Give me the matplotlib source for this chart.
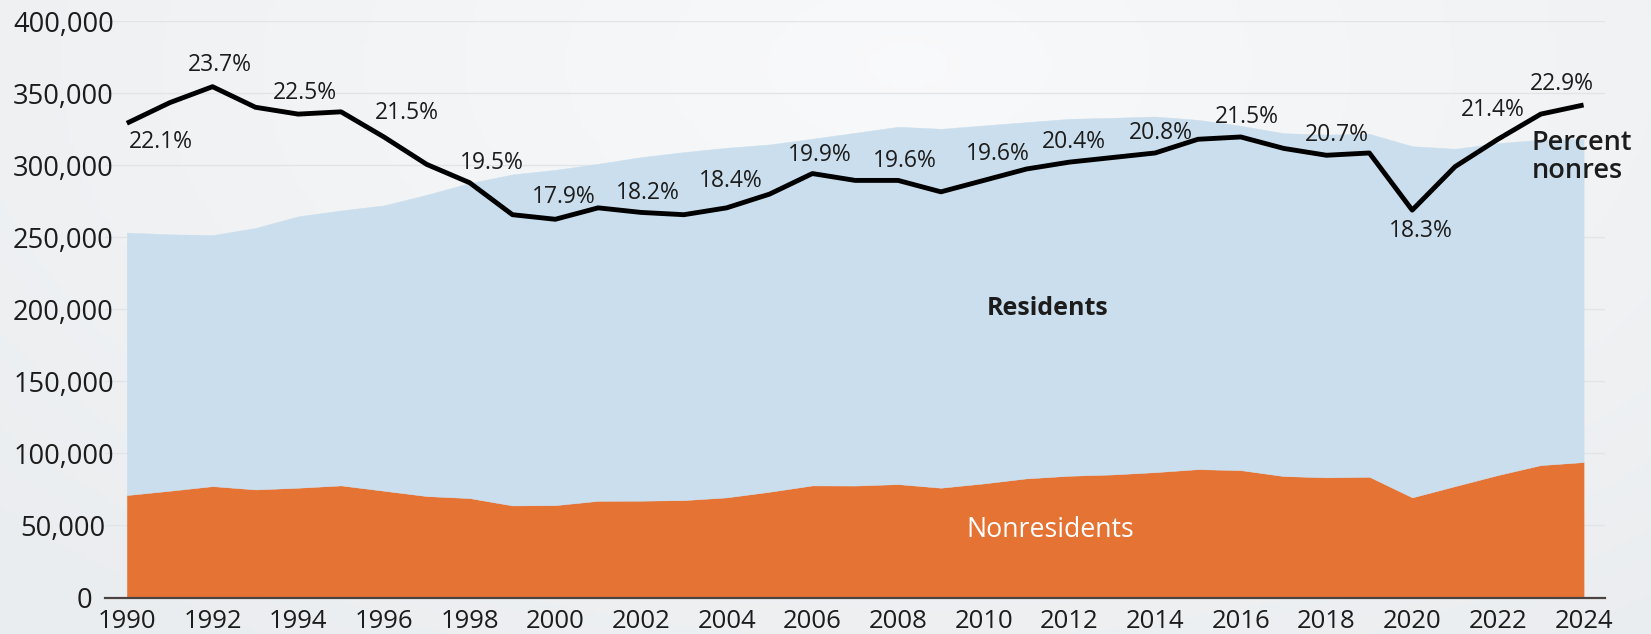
import numpy as np
import matplotlib
matplotlib.use("Agg")
import matplotlib.pyplot as plt
from matplotlib.transforms import ScaledTranslation

# ---------------- data ----------------
years = list(range(1990, 2025))
nonresidents = [71100, 74100, 77300, 75000, 76200, 77800, 74100, 70400, 69000, 63900,
                64100, 67100, 67200, 67600, 69500, 73400, 77800, 77700, 78700, 76200,
                79200, 82700, 84500, 85400, 87000, 89100, 88400, 84300, 83400, 83800,
                69500, 77300, 85000, 91900, 94000]
residents = [182200, 178000, 174300, 181500, 188400, 190900, 198100, 209200, 218700, 229800,
             232800, 234000, 238500, 241600, 242700, 241100, 240700, 244900, 248100, 249200,
             248500, 247300, 247800, 247600, 246900, 242500, 239100, 238000, 238000, 238100,
             243800, 234200, 230400, 225900, 224200]
pct_nonres = [22.1, 23.0, 23.7, 22.8, 22.5, 22.6, 21.5, 20.3, 19.5, 18.1,
              17.9, 18.4, 18.2, 18.1, 18.4, 19.0, 19.9, 19.6, 19.6, 19.1,
              19.6, 20.1, 20.4, 20.6, 20.8, 21.4, 21.5, 21.0, 20.7, 20.8,
              18.3, 20.2, 21.4, 22.5, 22.9]
label_years = list(range(1990, 2025, 2))
y_ticks = [0, 50000, 100000, 150000, 200000, 250000, 300000, 350000, 400000]
x_ticks = list(range(1990, 2025, 2))

# label offsets (pixels) for percent annotations, keyed by year
label_offsets = {1990: (34, -19), 1992: (7, 22), 1994: (7, 21), 1996: (23, 24),
                 1998: (22, 20), 2000: (8, 22), 2002: (7, 19), 2004: (4, 27),
                 2006: (7, 19), 2008: (7, 19), 2010: (14, 26), 2012: (4, 20),
                 2014: (6, 20), 2016: (6, 20), 2018: (10, 20), 2020: (9, -21),
                 2022: (-5, 29), 2024: (-22, 21)}

# ---------------- style ----------------
plt.rcParams["font.family"] = ["Open Sans", "DejaVu Sans"]
ORANGE = "#e57334"
BLUE = "#cadeed"
TXT = "#1c1c1c"

W, H, DPI = 1651, 634, 100
fig = plt.figure(figsize=(W / DPI, H / DPI), dpi=DPI)
fig.patch.set_facecolor("#eff1f3")

# subtle background gradient
bg = fig.add_axes([0, 0, 1, 1], zorder=-10)
yy, xx = np.mgrid[0:1:160j, 0:1:400j]
r = np.clip(np.sqrt(((xx - 0.55) / 0.75) ** 2 + ((yy - 0.1) / 1.1) ** 2), 0, 1)
c_in = np.array([0.975, 0.978, 0.982])
c_out = np.array([0.92, 0.93, 0.94])
img = c_in[None, None, :] * (1 - r[..., None]) + c_out[None, None, :] * r[..., None]
bg.imshow(img, aspect="auto", extent=[0, 1, 0, 1], origin="upper")
bg.axis("off")

L = 105 / W
R = 1605 / W
B = (H - 597.5) / H
T = (H - 21.3) / H
ax = fig.add_axes([L, B, R - L, T - B])
ax.set_facecolor("none")

polys = ax.stackplot(years, nonresidents, residents, colors=[ORANGE, BLUE], zorder=2)
for p, c in zip(polys, [ORANGE, BLUE]):
    p.set_edgecolor(c)
    p.set_linewidth(0.3)

ax.set_xlim(1989.49, 2024.5)
ax.set_ylim(0, 400000)
ax.set_xticks(x_ticks, labels=[str(x) for x in x_ticks])
ax.set_yticks(y_ticks, labels=[f"{v:,}" for v in y_ticks])
ax.tick_params(axis="both", length=0, labelcolor=TXT)
ax.tick_params(axis="x", pad=8, labelsize=18.5)
ax.tick_params(axis="y", pad=-6.3, labelsize=19.6)
shift = {"50,000": -8, "0": -22}
for lab in ax.get_yticklabels():
    dx = shift.get(lab.get_text(), 0)
    if dx:
        lab.set_transform(lab.get_transform() + ScaledTranslation(dx / DPI, 0, fig.dpi_scale_trans))

ax.yaxis.grid(True, color="#e2e5e8", lw=1)
ax.set_axisbelow(True)
for s in ["top", "left", "right"]:
    ax.spines[s].set_visible(False)
ax.spines["bottom"].set_color("#4a4342")
ax.spines["bottom"].set_linewidth(1.6)
ax.spines["bottom"].set_zorder(5)

ax.text(2011.49, 200400, "Residents", ha="center", va="center",
        fontsize=18, fontweight="bold", color=TXT, zorder=4)
ax.text(2011.56, 47100, "Nonresidents", ha="center", va="center",
        fontsize=19.3, color="white", zorder=4)

# percent line on secondary scale
ax2 = ax.twinx()
ax2.set_ylim(1.355, 26.56)
ax2.axis("off")
ax2.plot(years, pct_nonres, color="black", lw=3.5, solid_capstyle="butt", zorder=3)
for yr in label_years:
    v = pct_nonres[years.index(yr)]
    dx, dy = label_offsets[yr]
    ax2.annotate(f"{v:.1f}%", xy=(yr, v), xytext=(dx, dy), textcoords="offset pixels",
                 ha="center", va="center", fontsize=16.5, color=TXT)

ax.text(2022.78, 306000, "Percent\nnonres", ha="left", va="center",
        fontsize=19.5, fontweight="semibold", color=TXT, linespacing=1.0, zorder=6)

fig.savefig("out.png", dpi=DPI, facecolor=fig.get_facecolor())
